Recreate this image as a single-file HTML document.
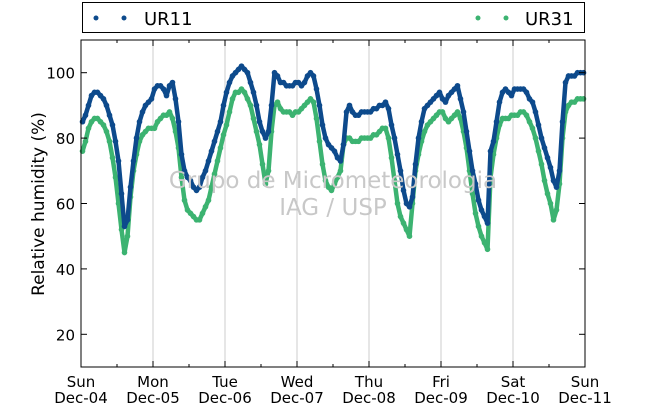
<!DOCTYPE html>
<html><head><meta charset="utf-8"><style>
body{margin:0;background:#fff;}
svg{display:block;font-family:"DejaVu Sans","Liberation Sans",sans-serif;}
</style></head><body>
<svg id="chart" width="650" height="409" viewBox="0 0 650 409">
  <rect x="0" y="0" width="650" height="409" fill="#fff"/>
  <g id="grid"></g>
  <g id="series"></g>
  <text x="333" y="188" text-anchor="middle" font-size="23" fill="#c8c8c8">Grupo de Micrometeorologia</text>
  <text x="333" y="215" text-anchor="middle" font-size="23" fill="#c8c8c8">IAG / USP</text>
  <rect x="81" y="40" width="504" height="327" fill="none" stroke="#000" stroke-width="1"/>
  <g id="axes"></g>
  <text transform="translate(44,204) rotate(-90)" text-anchor="middle" font-size="17" fill="#000">Relative humidity (%)</text>
  <g>
    <rect x="82.5" y="2.5" width="502" height="30" fill="#fff" stroke="#000"/>
    <g>
      <circle cx="96" cy="18" r="2.5" fill="#0d4a8c"/><circle cx="124" cy="18" r="2.5" fill="#0d4a8c"/>
      <text x="144" y="25" font-size="18" fill="#000">UR11</text>
    </g>
    <g>
      <circle cx="478" cy="18" r="2.5" fill="#3cb371"/><circle cx="506" cy="18" r="2.5" fill="#3cb371"/>
      <text x="525" y="25" font-size="18" fill="#000">UR31</text>
    </g>
  </g>
</svg>
<script>
const dayLabels = ["Sun","Mon","Tue","Wed","Thu","Fri","Sat","Sun"];
const dateLabels = ["Dec-04","Dec-05","Dec-06","Dec-07","Dec-08","Dec-09","Dec-10","Dec-11"];
const yTicks = [20,40,60,80,100];
// hourly values, 7 days x 24
const ur11 = [
85,87,90,93,94,94,93,92,90,87,84,79,73,63,53,55,65,73,80,85,88,90,91,92,
95,96,96,95,93,96,97,92,85,75,70,68,67,65,64,65,68,70,73,76,79,82,85,90,
94,97,99,100,101,102,101,100,97,94,90,85,82,80,82,90,100,99,97,97,96,96,96,97,
97,96,97,99,100,99,95,90,84,80,78,77,76,74,73,78,88,90,88,87,87,88,88,88,
88,89,89,90,90,91,89,84,80,75,70,64,60,59,62,72,80,85,89,90,91,92,93,94,
92,91,93,94,95,96,92,88,82,76,70,66,61,58,56,54,76,79,85,91,94,95,94,93,
95,95,95,95,94,92,91,88,84,80,77,74,71,67,65,70,85,97,99,99,99,100,100,100];
const ur31 = [
76,79,83,85,86,86,85,84,82,79,74,68,60,52,45,50,62,70,75,79,81,82,83,83,
83,85,86,87,87,88,86,82,77,68,61,58,57,56,55,55,57,59,61,65,69,73,77,81,
84,88,92,94,94,95,94,92,90,86,82,78,72,66,70,82,90,91,89,88,88,88,87,88,
88,89,90,91,92,91,86,79,72,67,65,64,66,68,70,78,80,80,79,79,79,80,80,80,
80,81,81,82,83,83,80,74,67,60,56,54,52,50,60,70,75,79,82,84,85,86,87,88,
88,86,85,86,87,88,86,82,77,70,63,57,53,50,48,46,68,75,80,84,86,86,86,87,
87,87,88,88,87,85,83,80,76,72,67,63,60,55,58,66,80,88,90,91,91,92,92,92];

const NS="http://www.w3.org/2000/svg";
const X0=81,X1=585,Y0=40,Y1=367,YMIN=10,YMAX=110,HOURS=168;
const xs=h=>X0+(X1-X0)*h/HOURS;
const ys=v=>Y1-(Y1-Y0)*(v-YMIN)/(YMAX-YMIN);
function mk(tag,attrs,parent){const e=document.createElementNS(NS,tag);for(const k in attrs)e.setAttribute(k,attrs[k]);parent.appendChild(e);return e;}
const grid=document.getElementById('grid'),axes=document.getElementById('axes'),series=document.getElementById('series');
for(let d=1;d<7;d++){
  const l=mk('line',{x1:xs(d*24),x2:xs(d*24),y1:Y0,y2:Y1,stroke:'#cccccc','stroke-width':1},grid);
  
  
}
for(let h=0;h<=HOURS;h+=12){
  const len=h%24===0?6:3;
  mk('line',{x1:xs(h),x2:xs(h),y1:Y1,y2:Y1-len,stroke:'#000'},axes);
  mk('line',{x1:xs(h),x2:xs(h),y1:Y0,y2:Y0+len,stroke:'#000'},axes);
}
dayLabels.forEach((d,i)=>{
  const t=mk('text',{x:xs(i*24),y:387,'text-anchor':'middle','font-size':15},axes);
  t.textContent=d;
  
  
  const t2=mk('text',{x:xs(i*24),y:403,'text-anchor':'middle','font-size':15},axes);
  t2.textContent=dateLabels[i];
  
  
});
yTicks.forEach(v=>{
  mk('line',{x1:X0,x2:X0+6,y1:ys(v),y2:ys(v),stroke:'#000'},axes);
  mk('line',{x1:X1,x2:X1-6,y1:ys(v),y2:ys(v),stroke:'#000'},axes);
  const t=mk('text',{x:75,y:ys(v)+6,'text-anchor':'end','font-size':15},axes);
  t.textContent=v;
  
  
});
function draw(arr,color,name){
  const g=mk('g',{},series);
  
  
  const pts=arr.map((v,i)=>xs(i+0.5)+','+ys(v)).join(' ');
  mk('polyline',{points:pts,fill:'none',stroke:color,'stroke-width':4.5,'stroke-linejoin':'round','stroke-linecap':'round'},g);
  arr.forEach((v,i)=>{
    const c=mk('circle',{cx:xs(i+0.5),cy:ys(v),r:2.8,fill:color},g);
    
    
  });
}
draw(ur31,'#3cb371','ur31-series');
draw(ur11,'#0d4a8c','ur11-series');
</script>
</body></html>
